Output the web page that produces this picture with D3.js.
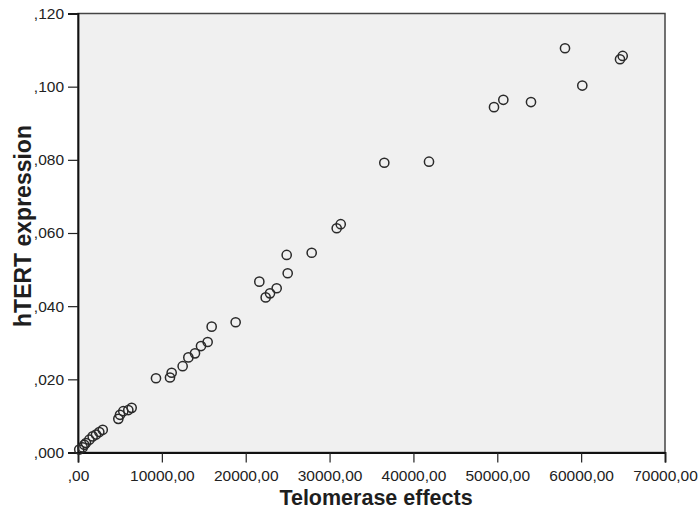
<!DOCTYPE html>
<html>
<head>
<meta charset="utf-8">
<script src="https://cdn.jsdelivr.net/npm/d3@7"></script>
<style>
  html, body { margin: 0; padding: 0; background: #ffffff; }
  svg { display: block; }
  .tick text { font-family: "Liberation Sans", Arial, sans-serif; font-size: 15.5px; fill: #222; }
  .axis-title { font-family: "Liberation Sans", Arial, sans-serif; font-weight: bold; fill: #1e1e1e; }
</style>
</head>
<body>
<svg id="chart" width="699" height="513"></svg>
<script>
// Telomerase effects (x) versus hTERT expression (y), one value per sample
const telomeraseEffects = [
  150, 560, 750, 950, 1350, 1750, 2150, 2540, 2950,
  4810, 5010, 5400, 6000, 6400,
  9300, 10970, 11170, 12480, 13158, 13952, 14668, 15460, 15940, 18800,
  22380, 22896, 23692, 21624, 25006, 24886, 27868,
  30850, 31330, 36527, 41857,
  49608, 50720, 54020, 58075, 60137, 64634, 64955
];
const htertExpression = [
  0.0008, 0.0014, 0.0021, 0.0026, 0.0035, 0.0044, 0.0049, 0.0056, 0.0062,
  0.0092, 0.0103, 0.0113, 0.0116, 0.0122,
  0.0203, 0.0205, 0.0218, 0.0236, 0.0260, 0.0271, 0.0291, 0.0302, 0.0344, 0.0356,
  0.0424, 0.0435, 0.0449, 0.0467, 0.0490, 0.0540, 0.0546,
  0.0613, 0.0624, 0.0792, 0.0795,
  0.0944, 0.0964, 0.0958, 0.1105, 0.1003, 0.1075, 0.1084
];
const xTicks = [0, 10000, 20000, 30000, 40000, 50000, 60000, 70000];
const yTicks = [0, 0.02, 0.04, 0.06, 0.08, 0.10, 0.12];
const xTitle = "Telomerase effects";
const yTitle = "hTERT expression";

const svg = d3.select("#chart");
const plotLeft = 78, plotRight = 665, plotTop = 13.5, plotBottom = 452.5;

const x = d3.scaleLinear().domain([0, 70000]).range([plotLeft, plotRight]);
const y = d3.scaleLinear().domain([0, 0.12]).range([plotBottom, plotTop]);

// comma as the decimal mark: 0.02 -> ",020", 10000 -> "10000,00"
const fmtY = d => d3.format(".3f")(d).replace(/^0\./, ",");
const fmtX = d => d3.format(".2f")(d).replace(/^0\./, ",").replace(".", ",");

// plot background and frame
svg.append("rect")
  .attr("x", plotLeft).attr("y", plotTop)
  .attr("width", plotRight - plotLeft).attr("height", plotBottom - plotTop)
  .attr("fill", "#f0f0f0")
  .attr("stroke", "#444").attr("stroke-width", 1.5);

// axes
const xAxis = svg.append("g")
  .attr("transform", `translate(0,${plotBottom})`)
  .call(d3.axisBottom(x).tickValues(xTicks).tickFormat(fmtX).tickSize(10).tickPadding(7));
const yAxis = svg.append("g")
  .attr("transform", `translate(${plotLeft},0)`)
  .call(d3.axisLeft(y).tickValues(yTicks).tickFormat(fmtY).tickSize(10).tickPadding(4));

[xAxis, yAxis].forEach(g => {
  g.select(".domain").attr("stroke", "#111").attr("stroke-width", 1.8);
  g.selectAll(".tick line").attr("stroke", "#222").attr("stroke-width", 1.2);
  g.selectAll(".tick text").attr("font-family", null).attr("font-size", null);
});

// scatter points as open circles
svg.append("g")
  .selectAll("circle")
  .data(telomeraseEffects.map((v, i) => ({ x: v, y: htertExpression[i] })))
  .join("circle")
  .attr("cx", d => x(d.x))
  .attr("cy", d => y(d.y))
  .attr("r", 4.6)
  .attr("fill", "none")
  .attr("stroke", "#2a2a2a")
  .attr("stroke-width", 1.5);

// axis titles
svg.append("text")
  .attr("class", "axis-title")
  .attr("x", 376)
  .attr("y", 505)
  .attr("text-anchor", "middle")
  .attr("font-size", 21.5)
  .text(xTitle);

svg.append("text")
  .attr("class", "axis-title")
  .attr("transform", "translate(31,226) rotate(-90)")
  .attr("text-anchor", "middle")
  .attr("font-size", 23)
  .text(yTitle);
</script>
</body>
</html>
